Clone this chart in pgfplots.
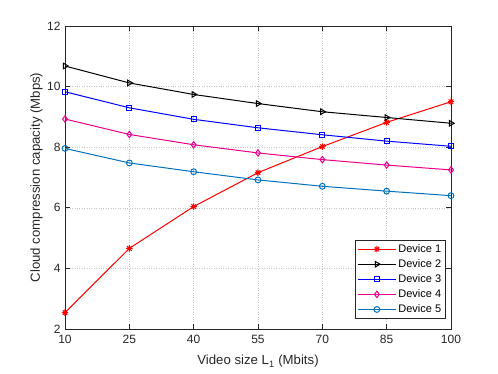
\documentclass[border=0pt]{standalone}
\usepackage{fontspec}
\setmainfont{Liberation Sans}
\usepackage{pgfplots}
\pgfplotsset{compat=1.18}

\definecolor{axgray}{rgb}{0.15,0.15,0.15}
\definecolor{mblue}{rgb}{0,0.447,0.741}

% MATLAB-like '*' marker: plus and cross together
\pgfdeclareplotmark{mstar}{%
  \pgfpathmoveto{\pgfqpoint{-\pgfplotmarksize}{0pt}}%
  \pgfpathlineto{\pgfqpoint{\pgfplotmarksize}{0pt}}%
  \pgfpathmoveto{\pgfqpoint{0pt}{-\pgfplotmarksize}}%
  \pgfpathlineto{\pgfqpoint{0pt}{\pgfplotmarksize}}%
  \pgfpathmoveto{\pgfqpoint{-0.707\pgfplotmarksize}{-0.707\pgfplotmarksize}}%
  \pgfpathlineto{\pgfqpoint{0.707\pgfplotmarksize}{0.707\pgfplotmarksize}}%
  \pgfpathmoveto{\pgfqpoint{-0.707\pgfplotmarksize}{0.707\pgfplotmarksize}}%
  \pgfpathlineto{\pgfqpoint{0.707\pgfplotmarksize}{-0.707\pgfplotmarksize}}%
  \pgfusepathqstroke}

\begin{document}
\begin{tikzpicture}
\begin{axis}[
  at={(0,0)}, anchor=south west,
  scale only axis, width=386pt, height=303pt,
  xmin=10, xmax=100, ymin=2, ymax=12,
  xtick={10,25,40,55,70,85,100},
  ytick={2,4,6,8,10,12},
  tick align=inside,
  major tick length=5pt,
  axis line style={axgray, line width=0.7pt},
  every tick/.style={axgray, line width=0.7pt},
  grid=major,
  major grid style={dotted, gray!45, line width=0.5pt},
  /pgf/number format/assume math mode=true,
  ticklabel style={font=\fontsize{12}{12}\selectfont, text=axgray},
  xticklabel style={yshift=-3pt},
  yticklabel style={xshift=-1pt},
  xlabel={Video size L\textsubscript{1} (Mbits)},
  ylabel={Cloud compression capacity (Mbps)},
  label style={font=\fontsize{13.2}{14}\selectfont, text=axgray},
  xlabel style={at={(axis description cs:0.5,0)}, anchor=base, yshift=-36pt},
  ylabel style={at={(axis description cs:0,0.5)}, anchor=base, rotate=0, yshift=25pt},
  legend style={at={(1,0)}, anchor=south east, xshift=-5pt, yshift=10pt,
    draw=axgray, line width=0.6pt, fill=white,
    font=\fontsize{11}{12}\selectfont, row sep=1.6pt,
    inner sep=2.5pt},
  legend cell align=left,
  legend image code/.code={%
    \draw[mark repeat=2, mark phase=2] plot coordinates {(0pt,0pt) (19pt,0pt) (38pt,0pt)};},
  every axis plot/.append style={line width=1pt, mark size=3.2pt},
]
\addplot[red, mark=mstar] coordinates {
  (10,2.54) (25,4.66) (40,6.04) (55,7.16) (70,8.02) (85,8.82) (100,9.5)};
\addlegendentry{Device 1}
\addplot[black, mark=triangle, mark options={rotate=-90}] coordinates {
  (10,10.68) (25,10.12) (40,9.74) (55,9.44) (70,9.17) (85,8.98) (100,8.79)};
\addlegendentry{Device 2}
\addplot[blue, mark=square, mark size=2.6pt] coordinates {
  (10,9.83) (25,9.3) (40,8.92) (55,8.64) (70,8.41) (85,8.2) (100,8.03)};
\addlegendentry{Device 3}
\addplot[magenta, mark=diamond] coordinates {
  (10,8.93) (25,8.42) (40,8.08) (55,7.81) (70,7.59) (85,7.41) (100,7.25)};
\addlegendentry{Device 4}
\addplot[mblue, mark=o, mark size=2.9pt] coordinates {
  (10,7.96) (25,7.48) (40,7.19) (55,6.92) (70,6.71) (85,6.55) (100,6.4)};
\addlegendentry{Device 5}
\end{axis}
\pgfresetboundingbox
\useasboundingbox (-65pt,-45pt) rectangle (433pt,329pt);
\end{tikzpicture}
\end{document}
